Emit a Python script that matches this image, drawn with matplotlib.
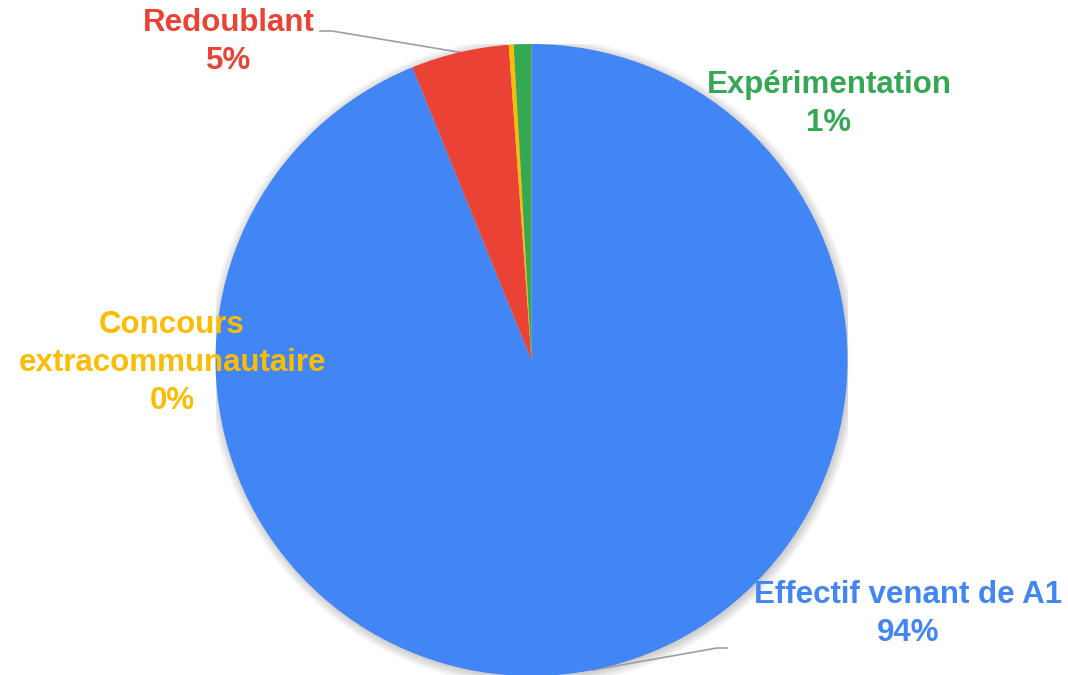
import numpy as np
import matplotlib.pyplot as plt
from matplotlib.patches import Circle

# share of students by origin (clockwise from the top)
labels = ["Effectif venant de A1", "Redoublant", "Concours\nextracommunautaire", "Expérimentation"]
shares = [93.85, 5.0, 0.25, 0.9]
colors = ["#4285F4", "#EA4335", "#FBBC04", "#34A853"]

W, H = 1068, 675
CX, CY, R = 531.5, 360, 316  # pie centre / radius in pixels


def px(x, y):
    # pixel position -> data coords of the unit pie
    return (x - CX) / R, (CY - y) / R


fig = plt.figure(figsize=(W / 100, H / 100), dpi=100)
ax = fig.add_axes([(CX - R) / W, (H - CY - R) / H, 2 * R / W, 2 * R / H])

# soft glow round the pie
for k in range(8):
    ax.add_patch(Circle((0.004, -0.006), 1.0 + 0.004 * k, color="black",
                        alpha=0.025, lw=0, zorder=0))

wedges, _ = ax.pie(shares, colors=colors, startangle=90, counterclock=False,
                   radius=1, wedgeprops=dict(linewidth=0), frame=True)
for w in wedges:
    w.set_zorder(2)
ax.set_xlim(-1, 1)
ax.set_ylim(-1, 1)
ax.set_aspect("equal")
ax.axis("off")

total = sum(shares)
pcts = ["{:.0f}%".format(np.floor(s / total * 100 + 0.5)) for s in shares]

# label block centres in pixels
label_pos = [(908, 614), (229, 42), (172, 363), (829, 104)]
# leader lines: elbow and end, pixels (None = no line)
leaders = [((717, 648), (727, 648)), ((332, 31), (320, 31)), None, None]

for w, lab, pct, c, pos, ld in zip(wedges, labels, pcts, colors, label_pos, leaders):
    tx, ty = px(*pos)
    ax.text(tx, ty, lab + "\n" + pct, ha="center", va="center", color=c,
            fontsize=22.5, fontweight="bold", family="Liberation Sans",
            linespacing=1.33, zorder=5)
    if ld is None:
        continue
    mid = np.deg2rad((w.theta1 + w.theta2) / 2)
    ax0, ay0 = np.cos(mid), np.sin(mid)
    (ex, ey), (fx, fy) = px(*ld[0]), px(*ld[1])
    ax.plot([ax0, ex, fx], [ay0, ey, fy], color="#9E9E9E", lw=1.2,
            clip_on=False, zorder=1)

fig.savefig("out.png", dpi=100)
